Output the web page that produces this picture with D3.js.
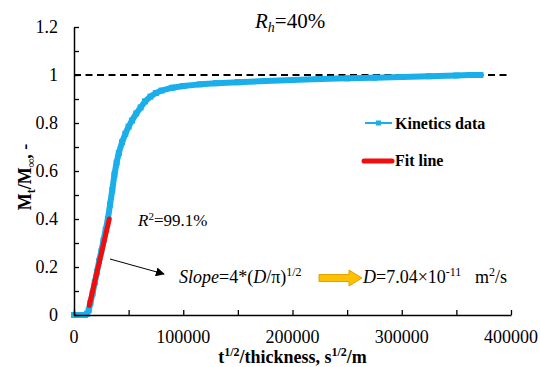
<!DOCTYPE html>
<html>
<head>
<meta charset="utf-8">
<script src="https://cdn.jsdelivr.net/npm/d3@7"></script>
<style>
  body { margin: 0; background: #fff; }
  svg text { font-family: "Liberation Serif", "DejaVu Serif", serif; }
</style>
</head>
<body>
<svg id="chart" width="540" height="367"></svg>
<script>
// kinetics data
var kineticsX = [0, 5000, 10000, 12000, 13500, 15000, 17000, 19000, 21000, 23000, 25000, 27000, 29000,
  31000, 33000, 35000, 37000, 39000, 41000, 44000, 47000, 50000, 53000, 57000, 61000, 65000, 70000,
  75000, 80000, 90000, 100000, 115000, 130000, 150000, 175000, 200000, 225000, 250000, 275000,
  300000, 325000, 350000, 362000, 372000];
var kineticsY = [0, 0, 0, 0.005, 0.02, 0.05, 0.09, 0.135, 0.18, 0.225, 0.265, 0.31, 0.355,
  0.40, 0.46, 0.52, 0.585, 0.635, 0.675, 0.72, 0.755, 0.785, 0.81, 0.84, 0.865, 0.89, 0.91,
  0.925, 0.935, 0.947, 0.954, 0.961, 0.966, 0.970, 0.975, 0.979, 0.983, 0.986, 0.989,
  0.992, 0.995, 0.998, 1.0, 1.0];
// linear fit segment
var fitX = [14000, 32300];
var fitY = [0.04, 0.40];

var xTicks = [0, 100000, 200000, 300000, 400000];
var yTicks = [0, 0.2, 0.4, 0.6, 0.8, 1, 1.2];

var margin = {top: 27, right: 29, bottom: 52, left: 74},
    width = 540, height = 367;

var serif = "'Liberation Serif', 'DejaVu Serif', serif";
var svg = d3.select("#chart").attr("font-family", serif);

var x = d3.scaleLinear().domain([0, 400000]).range([margin.left, width - margin.right]),
    y = d3.scaleLinear().domain([0, 1.2]).range([height - margin.bottom, margin.top]);

var blue = "#1aaeea", red = "#f20d0d";

// reference line at 1
svg.append("line")
  .attr("x1", x(0)).attr("x2", x(396000))
  .attr("y1", y(1)).attr("y2", y(1))
  .attr("stroke", "#000").attr("stroke-width", 2)
  .attr("stroke-dasharray", "7,4.5");

// kinetics curve
var pts = kineticsX.map(function(d, i) { return [d, kineticsY[i]]; });
var line = d3.line().x(function(d) { return x(d[0]); }).y(function(d) { return y(d[1]); });

svg.append("path")
  .datum(pts)
  .attr("d", line)
  .attr("fill", "none")
  .attr("stroke", blue)
  .attr("stroke-width", 6)
  .attr("stroke-linejoin", "round")
  .attr("stroke-linecap", "round");

svg.selectAll("rect.mk")
  .data(pts)
  .enter().append("rect")
  .attr("class", "mk")
  .attr("x", function(d) { return x(d[0]) - 3; })
  .attr("y", function(d) { return y(d[1]) - 3; })
  .attr("width", 6).attr("height", 6)
  .attr("fill", blue);

// fit line
svg.append("path")
  .datum(fitX.map(function(d, i) { return [d, fitY[i]]; }))
  .attr("d", line)
  .attr("fill", "none")
  .attr("stroke", red)
  .attr("stroke-width", 5)
  .attr("stroke-linecap", "round");

// axes
var xAxis = d3.axisBottom(x).tickValues(d3.range(0, 400001, 50000)).tickSizeInner(-5).tickSizeOuter(0).tickFormat("");
var yAxis = d3.axisLeft(y).tickValues(d3.range(0, 1.21, 0.1)).tickSizeInner(-5).tickSizeOuter(0).tickFormat("");

var gx = svg.append("g").attr("transform", "translate(0," + y(0) + ")").call(xAxis);
var gy = svg.append("g").attr("transform", "translate(" + x(0) + ",0)").call(yAxis);
[gx, gy].forEach(function(g) {
  g.select(".domain").attr("stroke", "#000").attr("stroke-width", 1.5);
  g.selectAll(".tick line").attr("stroke", "#000").attr("stroke-width", 1.3);
});

svg.append("g").selectAll("text")
  .data(xTicks)
  .enter().append("text")
  .attr("x", function(d) { return x(d); })
  .attr("y", 343)
  .attr("text-anchor", "middle")
  .attr("font-size", 18)
  .text(function(d) { return d; });

svg.append("g").selectAll("text")
  .data(yTicks)
  .enter().append("text")
  .attr("x", 58)
  .attr("y", function(d) { return y(d) + 6; })
  .attr("text-anchor", "end")
  .attr("font-size", 18)
  .text(function(d) { return d; });

// axis titles
var xt = svg.append("text")
  .attr("x", (x(0) + x(400000)) / 2).attr("y", 363)
  .attr("text-anchor", "middle")
  .attr("font-size", 18).attr("font-weight", "bold");
xt.append("tspan").text("t");
xt.append("tspan").attr("font-size", 12).attr("dy", -7).text("1/2");
xt.append("tspan").attr("dy", 7).text("/thickness, s");
xt.append("tspan").attr("font-size", 12).attr("dy", -7).text("1/2");
xt.append("tspan").attr("dy", 7).text("/m");

var yt = svg.append("text")
  .attr("transform", "translate(31,177) rotate(-90)")
  .attr("text-anchor", "middle")
  .attr("font-size", 18).attr("font-weight", "bold");
yt.append("tspan").text("M");
yt.append("tspan").attr("font-size", 12).attr("dy", 4).text("t");
yt.append("tspan").attr("dy", -4).text("/M");
yt.append("tspan").attr("font-size", 12).attr("dy", 4).text("∞");
yt.append("tspan").attr("dy", -4).text(", -");

// title
var tt = svg.append("text").attr("x", 255).attr("y", 28).attr("font-size", 21);
tt.append("tspan").attr("font-style", "italic").text("R");
tt.append("tspan").attr("font-style", "italic").attr("font-size", 14).attr("dy", 4).text("h");
tt.append("tspan").attr("dy", -4).text("=40%");

// legend
var lg = svg.append("g");
lg.append("line").attr("x1", 365).attr("x2", 392).attr("y1", 123).attr("y2", 123)
  .attr("stroke", blue).attr("stroke-width", 2);
lg.append("rect").attr("x", 376).attr("y", 120.5).attr("width", 5).attr("height", 5).attr("fill", blue);
lg.append("text").attr("x", 395).attr("y", 129).attr("font-size", 16).attr("font-weight", "bold").text("Kinetics data");
lg.append("line").attr("x1", 364).attr("x2", 392).attr("y1", 161).attr("y2", 161)
  .attr("stroke", red).attr("stroke-width", 5).attr("stroke-linecap", "round");
lg.append("text").attr("x", 395).attr("y", 166).attr("font-size", 16).attr("font-weight", "bold").text("Fit line");

// R squared
var r2 = svg.append("text").attr("x", 138).attr("y", 226).attr("font-size", 17);
r2.append("tspan").attr("font-style", "italic").text("R");
r2.append("tspan").attr("font-size", 11).attr("dy", -6).text("2");
r2.append("tspan").attr("dy", 6).text("=99.1%");

// pointer arrow
svg.append("defs").append("marker")
  .attr("id", "ah").attr("viewBox", "0 0 10 10")
  .attr("refX", 9).attr("refY", 5)
  .attr("markerWidth", 9).attr("markerHeight", 9)
  .attr("markerUnits", "userSpaceOnUse")
  .attr("orient", "auto")
  .append("path").attr("d", "M0,0L10,5L0,10z").attr("fill", "#000");
svg.append("line")
  .attr("x1", 110).attr("y1", 259).attr("x2", 164).attr("y2", 274)
  .attr("stroke", "#000").attr("stroke-width", 1)
  .attr("marker-end", "url(#ah)");

// slope text
var sl = svg.append("text").attr("x", 179).attr("y", 283).attr("font-size", 18);
sl.append("tspan").attr("font-style", "italic").text("Slope");
sl.append("tspan").text("=4*(");
sl.append("tspan").attr("font-style", "italic").text("D");
sl.append("tspan").text("/π)");
sl.append("tspan").attr("font-size", 12).attr("dy", -7).text("1/2");

// block arrow
svg.append("path")
  .attr("d", "M319,274.5H349V270L362,278L349,286V281.5H319Z")
  .attr("fill", "#ffc000").attr("stroke", "#e0a200").attr("stroke-width", 1);

var dt = svg.append("text").attr("x", 363).attr("y", 283).attr("font-size", 18);
dt.append("tspan").attr("font-style", "italic").text("D");
dt.append("tspan").text("=7.04×10");
dt.append("tspan").attr("font-size", 12).attr("dy", -7).text("-11");
dt.append("tspan").attr("dy", 7).text("\u00a0\u00a0 m");
dt.append("tspan").attr("font-size", 12).attr("dy", -7).text("2");
dt.append("tspan").attr("dy", 7).text("/s");
</script>
</body>
</html>
